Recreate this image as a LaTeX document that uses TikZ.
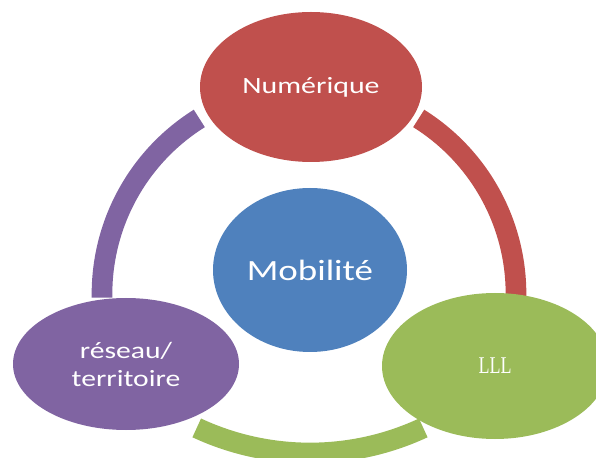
\documentclass[tikz,border=0pt]{standalone}
\usepackage{fontspec}
\setmainfont{Carlito}
\newfontfamily\lllfont{Liberation Serif}
\usetikzlibrary{shapes.geometric}
\definecolor{cycleRed}{HTML}{C0504D}
\definecolor{cycleBlue}{HTML}{4F81BD}
\definecolor{cycleGreen}{HTML}{9BBB59}
\definecolor{cyclePurple}{HTML}{8064A2}
\begin{document}
\begin{tikzpicture}[x=0.75pt, y=0.75pt,
		bubble/.style={ellipse, inner sep=0pt, text=white, align=center},
		ringArc/.style={line width=15.5pt}]
		\useasboundingbox (0,0) rectangle (596,457);

		\coordinate (ringTop) at (309,163);
		\coordinate (ringBottom) at (310,272);

		% draw ring arcs
		\draw[ringArc, draw=cyclePurple] ([shift={(181:207)}]ringTop) arc[start angle=181, end angle=122, radius=207];
		\draw[ringArc, draw=cycleRed] ([shift={(58:207)}]ringTop) arc[start angle=58, end angle=-1, radius=207];
		\draw[ringArc, draw=cycleGreen] ([shift={(-65:268)}]ringBottom) arc[start angle=-65, end angle=-115, radius=268];

		% draw outer bubbles
		\node[bubble, fill=cycleRed, minimum width=166.5pt, minimum height=112.5pt, font=\fontsize{17.5}{21}\selectfont](numerique) at (311,370){\scalebox{1.28}[1]{Numérique}};
		\node[bubble, fill=cyclePurple, minimum width=169.5pt, minimum height=99pt, font=\fontsize{17.5}{21}\selectfont](reseau) at (126,93){\scalebox{1.27}[1]{réseau/}\\\scalebox{1.27}[1]{territoire}};
		\node[bubble, fill=cycleGreen, minimum width=169.5pt, minimum height=109.5pt, font=\lllfont\fontsize{18}{21}\selectfont](lll) at (495,91){\scalebox{0.75}[1]{LLL}};

		% draw centre bubble
		\node[bubble, fill=cycleBlue, minimum width=145.5pt, minimum height=123pt, font=\fontsize{22}{26}\selectfont](mobilite) at (310,187){\scalebox{1.26}[1]{Mobilité}};
	\end{tikzpicture}
\end{document}
